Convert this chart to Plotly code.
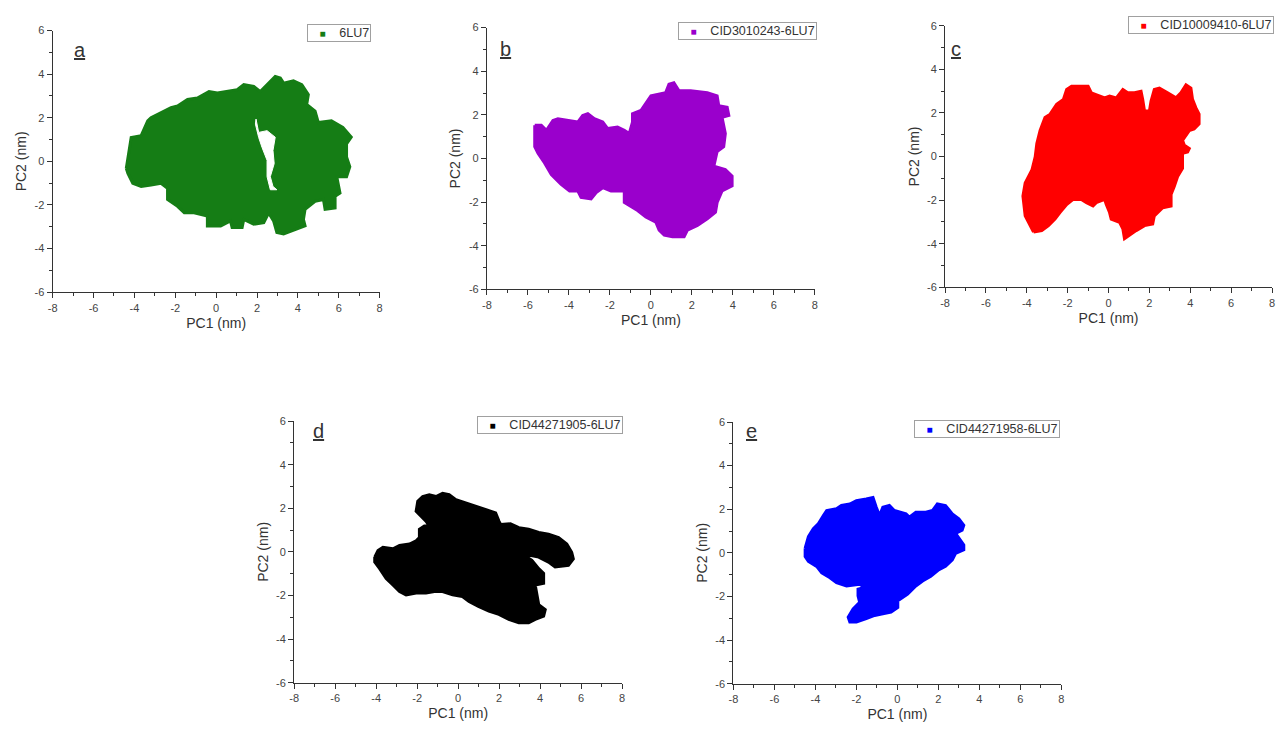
import plotly.graph_objects as go

# ---------------- data (outline of each PCA projection cloud) -------------
names = ["6LU7", "CID3010243-6LU7", "CID10009410-6LU7", "CID44271905-6LU7", "CID44271958-6LU7"]
panel_labels = ["a", "b", "c", "d", "e"]
colors = ["#157d15", "#9a00cc", "#ff0000", "#000000", "#0000ff"]

a_pc1 = [-4.4, -4.16, -3.67, -3.35, -3.19, -2.21, -1.89, -1.4, -0.92, -0.35, 0.06, 1.03, 1.35, 1.84, 2.16,
         2.57, 2.89, 3.14, 3.3, 3.78, 4.19, 4.51, 4.43, 4.84, 5.0, 5.64, 6.2, 6.61, 6.38, 6.38, 6.54, 6.38,
         5.9, 6.06, 5.82, 5.82, 5.33, 5.25, 4.84, 4.35, 4.27, 4.35, 3.78, 3.3, 2.97, 2.81, 2.57, 2.33, 1.84,
         1.35, 1.27, 0.78, 0.7, 0.22, -0.43, -0.43, -1.08, -1.56, -1.89, -2.38, -2.38, -2.7, -3.19, -3.67,
         -4.08, -4.32]
a_pc2 = [-0.32, 1.1, 1.18, 1.86, 2.0, 2.46, 2.54, 2.84, 2.91, 3.2, 3.14, 3.29, 3.52, 3.44, 3.2,
         3.59, 3.9, 3.82, 3.59, 3.7, 3.52, 3.06, 2.61, 2.31, 1.78, 1.86, 1.56, 1.11, 0.8, 0.2, -0.25, -0.7,
         -0.7, -1.45, -1.6, -2.13, -2.2, -1.75, -1.83, -2.2, -2.66, -2.96, -3.18, -3.33, -3.26, -2.73, -2.36,
         -2.81, -2.88, -2.66, -3.03, -3.03, -2.73, -2.96, -2.96, -2.51, -2.36, -2.36, -2.06, -1.75, -1.23,
         -1.0, -1.08, -1.15, -1.0, -0.55]
# empty pocket inside cloud a
a_gap_pc1 = [1.95, 2.08, 2.49, 2.89, 2.78, 2.84, 2.65, 2.78, 2.97, 2.65, 2.49, 2.49, 2.24, 2.08, 1.92]
a_gap_pc2 = [1.94, 1.33, 1.41, 1.11, 0.5, -0.1, -0.7, -1.15, -1.3, -1.3, -0.7, 0.05, 0.65, 1.1, 1.71]

b_pc1 = [-5.67, -5.35, -5.1, -4.78, -4.54, -4.05, -3.57, -3.33, -3.08, -2.76, -2.35, -2.11, -1.63, -1.30,
         -1.06, -0.9, -0.9, -0.49, 0.0, 0.72, 0.88, 1.12, 1.37, 1.94, 2.75, 3.23, 3.31, 3.72, 3.8, 3.47,
         3.63, 3.55, 3.23, 3.07, 3.63, 3.96, 3.96, 3.47, 3.23, 3.15, 2.75, 2.27, 1.78, 1.62, 1.05, 0.65,
         0.4, 0.24, -0.25, -0.65, -1.30, -1.30, -1.95, -2.35, -2.67, -2.92, -3.41, -3.57, -3.97, -4.38,
         -4.86, -5.19, -5.51, -5.67]
b_pc2 = [1.52, 1.52, 1.29, 1.74, 1.82, 1.74, 1.67, 1.97, 2.05, 1.82, 1.67, 1.37, 1.44, 1.29,
         1.14, 1.67, 2.05, 2.2, 2.87, 3.02, 3.4, 3.47, 3.1, 3.1, 3.02, 2.87, 2.42, 2.35, 1.97, 1.89,
         1.14, 0.54, 0.32, -0.36, -0.51, -0.81, -1.26, -1.49, -2.02, -2.47, -2.77, -3.07, -3.29, -3.59,
         -3.59, -3.52, -3.29, -2.92, -2.69, -2.39, -2.02, -1.49, -1.49, -1.34, -1.56, -1.86, -1.79, -1.49,
         -1.49, -1.19, -0.74, -0.21, 0.24, 0.54]

c_pc1 = [-3.67, -3.92, -4.08, -4.19, -4.08, -3.75, -3.59, -3.51, -3.35, -3.11, -2.86, -2.54, -2.21, -2.05,
         -1.81, -1.24, -1.0, -0.84, -0.6, -0.19, 0.05, 0.38, 0.7, 0.94, 1.27, 1.59, 1.67, 1.76, 2.0, 2.08,
         2.24, 2.49, 2.89, 3.3, 3.54, 3.79, 4.03, 4.11, 4.27, 4.43, 4.43, 4.19, 3.95, 3.79, 3.62, 3.71,
         3.95, 3.87, 3.62, 3.62, 3.38, 3.22, 3.06, 3.06, 2.65, 2.49, 2.24, 2.16, 1.76, 1.35, 1.03, 0.78,
         0.7, 0.54, 0.13, 0.05, -0.11, -0.19, -0.6, -0.76, -1.08, -1.33, -1.73, -2.05, -2.38, -2.62,
         -2.94, -3.27]
c_pc2 = [-3.47, -3.02, -2.72, -1.82, -1.22, -0.62, -0.02, 0.59, 1.19, 1.79, 1.94, 2.39, 2.62, 3.07,
         3.22, 3.22, 3.22, 2.92, 2.84, 2.69, 2.77, 2.69, 3.07, 2.92, 2.92, 2.99, 2.62, 2.09, 2.09, 2.54,
         3.07, 3.14, 2.92, 2.69, 2.92, 3.29, 3.14, 2.62, 2.24, 1.94, 1.49, 1.26, 1.19, 0.96, 0.74, 0.51,
         0.36, 0.21, 0.14, -0.54, -0.92, -1.37, -1.74, -2.27, -2.35, -2.5, -2.72, -3.1, -3.17, -3.4, -3.62,
         -3.77, -3.32, -3.02, -2.87, -2.57, -2.2, -1.97, -2.12, -2.27, -2.12, -1.97, -1.97, -2.2, -2.57,
         -2.87, -3.17, -3.4]

d_pc1 = [-4.07, -3.91, -3.67, -3.18, -2.86, -2.37, -2.05, -1.89, -1.89, -1.65, -1.41, -1.57, -1.81, -2.05,
         -1.97, -1.73, -1.41, -1.08, -0.76, -0.44, -0.11, 0.37, 0.86, 1.34, 1.83, 1.99, 2.07, 2.55, 2.96,
         3.44, 3.93, 4.41, 4.9, 5.3, 5.54, 5.62, 5.38, 4.73, 4.41, 3.93, 3.44, 3.12, 3.6, 3.93, 4.17, 4.17,
         3.76, 3.84, 3.93, 4.25, 4.17, 3.76, 3.44, 2.96, 2.47, 1.99, 1.5, 0.99, 0.53, 0.21, -0.27, -0.76,
         -1.16, -1.57, -2.05, -2.54, -2.86, -3.18, -3.51, -3.83, -4.07]
d_pc2 = [-0.24, 0.06, 0.21, 0.14, 0.29, 0.36, 0.51, 0.66, 1.04, 1.19, 1.19, 1.41, 1.64, 1.86,
         2.32, 2.54, 2.62, 2.54, 2.69, 2.62, 2.39, 2.24, 2.09, 1.94, 1.79, 1.41, 1.26, 1.29, 1.11,
         1.04, 0.89, 0.81, 0.66, 0.36, -0.02, -0.32, -0.62, -0.69, -0.47, -0.24, -0.17, -0.09, -0.39, -0.77,
         -0.99, -1.44, -1.52, -2.05, -2.42, -2.65, -2.95, -3.1, -3.25, -3.25, -3.1, -2.87, -2.72, -2.5,
         -2.27, -2.05, -1.97, -1.82, -1.82, -1.89, -1.89, -1.97, -1.82, -1.52, -1.22, -0.77, -0.47]

e_pc1 = [-4.5, -4.34, -4.1, -3.85, -3.61, -3.45, -2.97, -2.73, -2.32, -2.0, -1.52, -1.19, -1.03, -0.87,
         -0.71, -0.39, -0.15, 0.1, 0.42, 0.58, 0.9, 1.39, 1.71, 1.95, 2.35, 2.68, 3.0, 3.24, 3.16, 2.84,
         3.0, 3.24, 3.24, 2.84, 2.68, 2.35, 2.03, 1.63, 1.23, 0.9, 0.5, 0.26, 0.02, 0.02, -0.31, -0.71,
         -1.11, -1.52, -2.0, -2.32, -2.4, -2.16, -1.84, -1.92, -1.92, -1.6, -1.84, -2.48, -2.97, -3.29,
         -3.69, -3.94, -4.34, -4.5]
e_pc2 = [0.21, 0.74, 1.11, 1.34, 1.71, 1.94, 2.02, 2.17, 2.24, 2.39, 2.47, 2.54, 2.09, 1.71,
         2.09, 2.17, 1.94, 1.86, 1.79, 1.64, 1.86, 1.86, 1.94, 2.24, 2.17, 1.79, 1.56, 1.26, 1.04, 0.89,
         0.66, 0.36, 0.14, -0.02, -0.32, -0.62, -0.77, -1.07, -1.29, -1.52, -1.89, -2.05, -2.2, -2.5,
         -2.72, -2.8, -2.87, -3.02, -3.17, -3.17, -2.95, -2.57, -2.27, -1.97, -1.67, -1.59, -1.44, -1.52,
         -1.37, -1.14, -0.92, -0.62, -0.39, -0.17]

x_ticks = [-8, -6, -4, -2, 0, 2, 4, 6, 8]
x_tick_text = ["-8", "-6", "-4", "-2", "0", "2", "4", "6", "8"]
y_ticks = [-6, -4, -2, 0, 2, 4, 6]
y_tick_text = ["-6", "-4", "-2", "0", "2", "4", "6"]

clouds = [(a_pc1, a_pc2), (b_pc1, b_pc2), (c_pc1, c_pc2), (d_pc1, d_pc2), (e_pc1, e_pc2)]

# ---------------- layout geometry ----------------
W, H = 1278, 729
# (left, right, top, bottom) in pixels of each plot area
boxes = [(48, 377, 25, 291), (485, 815, 22, 288), (946, 1275, 20, 286),
         (291, 621, 422, 688), (733, 1063, 423, 689)]
legend_pos = [(368, 18), (817, 16), (1277, 10), (622, 417), (1062, 421)]
label_pos = [(67, 32), (504, 31), (964, 30), (308, 432), (751, 432)]

fig = go.Figure()
TXT = "#333333"
FONT = "Liberation Sans, Arial, sans-serif"

for i, ((px, py), name, col) in enumerate(zip(clouds, names, colors)):
    k = "" if i == 0 else str(i + 1)
    xa, ya = "x" + k, "y" + k
    fig.add_trace(go.Scatter(x=px + [px[0]], y=py + [py[0]], xaxis=xa, yaxis=ya, mode="lines",
                             fill="toself", fillcolor=col, line=dict(color=col, width=3),
                             name=name, showlegend=False, hoverinfo="skip"))
    if i == 0:
        fig.add_trace(go.Scatter(x=a_gap_pc1 + [a_gap_pc1[0]], y=a_gap_pc2 + [a_gap_pc2[0]],
                                 xaxis=xa, yaxis=ya, mode="lines", fill="toself",
                                 fillcolor="white", line=dict(color="white", width=1),
                                 showlegend=False, hoverinfo="skip"))

    l, r, t, b = boxes[i]
    axis_common = dict(showline=True, linecolor="#333333", linewidth=1.2, mirror=False,
                       ticks="outside", ticklen=5, tickwidth=1.2, tickcolor="#333333",
                       showgrid=False, zeroline=False,
                       tickfont=dict(size=11, color="#444444", family=FONT),
                       minor=dict(ticks="outside", ticklen=3, tickcolor="#333333", dtick=1))
    fig.layout["xaxis" + k] = dict(domain=[l / W, r / W], anchor=ya, range=[-8, 8],
                                   tickmode="array", tickvals=x_ticks, ticktext=x_tick_text,
                                   title=dict(text="PC1 (nm)", font=dict(size=14, color=TXT, family=FONT),
                                              standoff=5),
                                   **axis_common)
    fig.layout["yaxis" + k] = dict(domain=[1 - b / H, 1 - t / H], anchor=xa, range=[-6, 6],
                                   tickmode="array", tickvals=y_ticks, ticktext=y_tick_text,
                                   title=dict(text="PC2 (nm)", font=dict(size=14, color=TXT, family=FONT),
                                              standoff=4),
                                   **axis_common)
    # legend box (one per panel)
    lx, ly = legend_pos[i]
    fig.add_annotation(x=lx / W, y=1 - ly / H, xref="paper", yref="paper",
                       xanchor="right", yanchor="top", showarrow=False,
                       text='&nbsp;&nbsp;&nbsp;<span style="color:%s;font-size:10px">■</span>'
                            '&nbsp;&nbsp;&nbsp;&nbsp;%s' % (col, name),
                       font=dict(size=12.5, color=TXT, family=FONT),
                       bgcolor="white", bordercolor="#a0a0a0", borderwidth=1, borderpad=1)
    ax, ay = label_pos[i]
    fig.add_annotation(x=ax / W, y=1 - ay / H, xref="paper", yref="paper",
                       text="<u>" + panel_labels[i] + "</u>", showarrow=False,
                       font=dict(size=20, color=TXT, family=FONT))

fig.update_layout(width=W, height=H, margin=dict(l=0, r=0, t=0, b=0),
                  paper_bgcolor="white", plot_bgcolor="white", showlegend=False)

fig.write_html("out.html")
